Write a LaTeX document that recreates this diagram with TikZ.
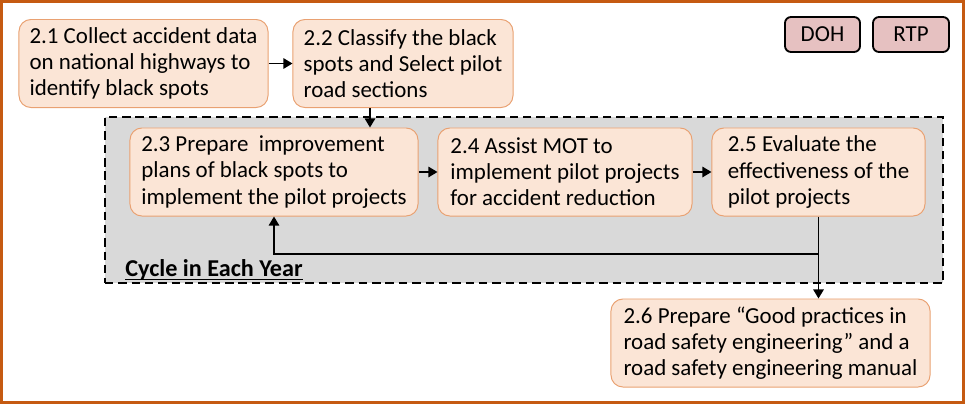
\documentclass[tikz,border=0pt]{standalone}
\usepackage{fontspec}
\setmainfont{Carlito}
\usepackage{tikz}
\usetikzlibrary{arrows.meta,positioning,calc}
\definecolor{peach}{HTML}{FBE5D6}
\definecolor{peachline}{HTML}{E9A172}
\definecolor{rosefill}{HTML}{E6C1C1}
\definecolor{cyclegray}{HTML}{D9D9D9}
\definecolor{frameline}{HTML}{C55A11}

\begin{document}
\begin{tikzpicture}[x=0.025cm,y=-0.025cm,
  task/.style={draw=peachline,fill=peach,line width=0.7pt,rounded corners=0.3cm,
    minimum height=2.2cm,align=left,inner sep=0pt,
    font=\fontsize{16.3}{18.6}\selectfont},
  org/.style={draw=black,fill=rosefill,line width=1.3pt,rounded corners=0.15cm,
    minimum height=0.875cm,inner sep=0pt,font=\fontsize{16.3}{18.6}\selectfont},
  arr/.style={-{Triangle[length=6.5pt,width=7.5pt]},line width=1.1pt}
]
  \useasboundingbox (0,0) rectangle (965,404);
  \draw[frameline,line width=2.2pt] (1.5,1.5) rectangle (963.5,402.5);
  % yearly cycle frame
  \node[draw,dashed,fill=cyclegray,line width=1.3pt,dash pattern=on 6pt off 3.5pt,
    minimum width=20.95cm,minimum height=4.15cm] (cycle) at (524,200) {};
  \node[anchor=base west,inner sep=0pt,font=\fontsize{17.2}{19}\selectfont\bfseries]
    (cyclab) at (125,276) {Cycle in Each Year};
  \draw[line width=1pt] ([yshift=-2.5pt]cyclab.base west) -- ([yshift=-2.5pt]cyclab.base east);
  % tasks
  \node[task,minimum width=6.225cm] (t21) at (143.5,63.5) {2.1 Collect accident data\\on national highways to\\identify black spots};
  \node[task,minimum width=5.5cm] (t22) at (403,63.5) {2.2 Classify the black\\spots and Select pilot\\road sections};
  \node[task,minimum width=7.2cm] (t23) at (274,172) {2.3 Prepare~ improvement\\plans of black spots to\\implement the pilot projects};
  \node[task,minimum width=6.35cm] (t24) at (565,172) {2.4 Assist MOT to\\implement pilot projects\\for accident reduction};
  \node[task,minimum width=5.325cm] (t25) at (818.5,172) {2.5 Evaluate the\\effectiveness of the\\pilot projects};
  \node[task,minimum width=7.975cm] (t26) at (770.5,343) {2.6 Prepare “Good practices in\\road safety engineering” and a\\road safety engineering manual};
  % agencies
  \node[org,minimum width=1.875cm] (doh) at (822.5,34.5) {DOH};
  \node[org,minimum width=1.9cm] (rtp) at (911,34.5) {RTP};
  % connectors
  \coordinate (drop) at (370,0);
  \coordinate (back) at (0,254);
  \draw[arr] (t21.east) -- (t22.west);
  \draw[arr] (t22.south -| drop) -- (t23.north -| drop);
  \draw[arr] (t23.east) -- (t24.west);
  \draw[arr] (t24.east) -- (t25.west);
  \draw[arr] (t25.south) -- (t25.south |- t26.north);
  \draw[arr] (t25.south |- back) -| (t23.south);
\end{tikzpicture}
\end{document}
